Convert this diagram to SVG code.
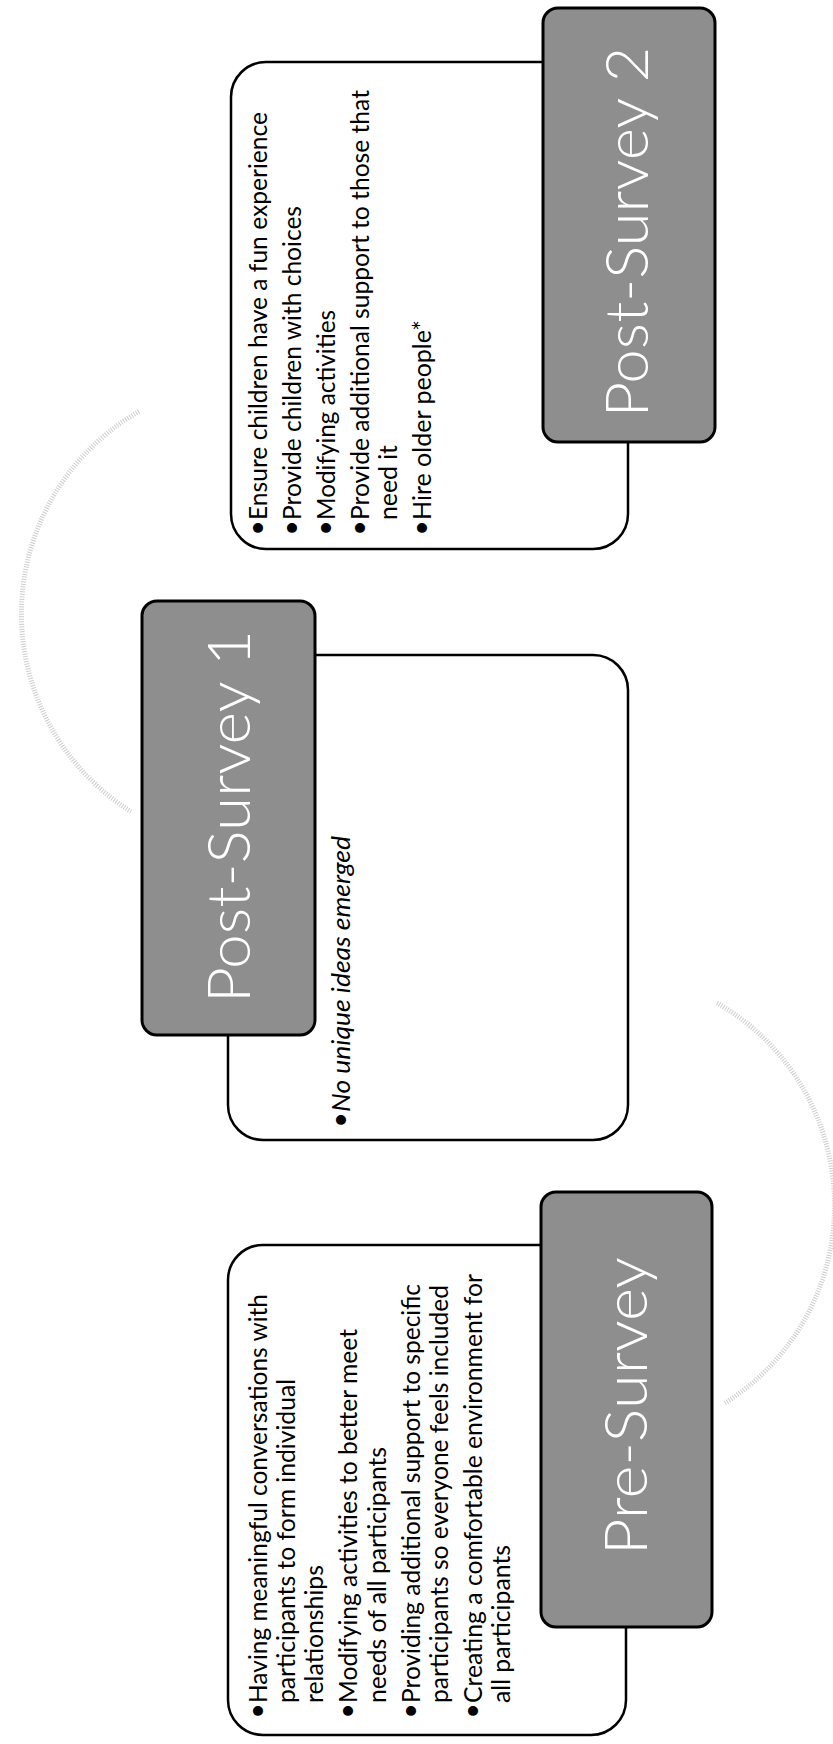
<svg xmlns="http://www.w3.org/2000/svg" width="833" height="1744" viewBox="0 0 833 1744">
<style>
.wbox{fill:#fff;stroke:#000;stroke-width:2.5}
.dbox{fill:#8e8e8e;stroke:#000;stroke-width:3}
.title{font-family:Lato,"Open Sans","Liberation Sans",sans-serif;font-weight:300;font-size:59px;fill:#fff;text-anchor:middle}
.item{font-family:Lato,"Liberation Sans",sans-serif;font-size:24.5px;fill:#000}
.ital{font-style:italic}
.bul{font-family:"Liberation Sans",sans-serif;font-size:36px;fill:#000;text-anchor:middle}
.arc{fill:none;stroke:#cdcdcd;stroke-width:5;stroke-dasharray:1 1.5}
</style>
<rect x="0" y="0" width="833" height="1744" fill="#fff"/>
<g id="connectors">
<path class="arc" d="M 717 1003 A 233 233 0 0 1 725 1403"/>
<path class="arc" d="M 139 411.5 A 233 233 0 0 0 131 811.5"/>
</g>
<g id="post-survey-2">
<rect class="wbox" x="231" y="62" width="397" height="487" rx="35"/>
<rect class="dbox" x="543" y="8" width="172" height="434" rx="15"/>
<g transform="rotate(-90)">
<text class="title" x="-232" y="648" textLength="371" lengthAdjust="spacingAndGlyphs">Post-Survey 2</text>
<text class="bul" x="-528" y="270">•</text>
<text class="item" x="-520" y="267" textLength="408" lengthAdjust="spacingAndGlyphs">Ensure children have a fun experience</text>
<text class="bul" x="-528" y="304">•</text>
<text class="item" x="-520" y="301" textLength="314" lengthAdjust="spacingAndGlyphs">Provide children with choices</text>
<text class="bul" x="-528" y="338">•</text>
<text class="item" x="-520" y="335" textLength="210" lengthAdjust="spacingAndGlyphs">Modifying activities</text>
<text class="bul" x="-528" y="372">•</text>
<text class="item" x="-520" y="369" textLength="430" lengthAdjust="spacingAndGlyphs">Provide additional support to those that</text>
<text class="item" x="-520" y="397" textLength="75" lengthAdjust="spacingAndGlyphs">need it</text>
<text class="bul" x="-528" y="434">•</text>
<text class="item" x="-520" y="431" textLength="200" lengthAdjust="spacingAndGlyphs">Hire older people*</text>
</g>
</g>
<g id="post-survey-1">
<rect class="wbox" x="228" y="655" width="400" height="485" rx="35"/>
<rect class="dbox" x="142" y="601" width="173" height="434" rx="15"/>
<g transform="rotate(-90)">
<text class="title" x="-816.5" y="250" textLength="373" lengthAdjust="spacingAndGlyphs">Post-Survey 1</text>
<text class="bul" x="-1120" y="353">•</text>
<text class="item ital" x="-1112" y="350" textLength="276" lengthAdjust="spacingAndGlyphs">No unique ideas emerged</text>
</g>
</g>
<g id="pre-survey">
<rect class="wbox" x="228" y="1245" width="398" height="490" rx="35"/>
<rect class="dbox" x="541" y="1192" width="171" height="435" rx="15"/>
<g transform="rotate(-90)">
<text class="title" x="-1406" y="647" textLength="298" lengthAdjust="spacingAndGlyphs">Pre-Survey</text>
<text class="bul" x="-1711" y="270">•</text>
<text class="item" x="-1703" y="267" textLength="409" lengthAdjust="spacingAndGlyphs">Having meaningful conversations with</text>
<text class="item" x="-1703" y="295" textLength="324" lengthAdjust="spacingAndGlyphs">participants to form individual</text>
<text class="item" x="-1703" y="323" textLength="138" lengthAdjust="spacingAndGlyphs">relationships</text>
<text class="bul" x="-1711" y="360">•</text>
<text class="item" x="-1703" y="357" textLength="374" lengthAdjust="spacingAndGlyphs">Modifying activities to better meet</text>
<text class="item" x="-1703" y="386" textLength="256" lengthAdjust="spacingAndGlyphs">needs of all participants</text>
<text class="bul" x="-1711" y="423">•</text>
<text class="item" x="-1703" y="420" textLength="419" lengthAdjust="spacingAndGlyphs">Providing additional support to specific</text>
<text class="item" x="-1703" y="448" textLength="418" lengthAdjust="spacingAndGlyphs">participants so everyone feels included</text>
<text class="bul" x="-1711" y="485">•</text>
<text class="item" x="-1703" y="482" textLength="429" lengthAdjust="spacingAndGlyphs">Creating a comfortable environment for</text>
<text class="item" x="-1703" y="510" textLength="158" lengthAdjust="spacingAndGlyphs">all participants</text>
</g>
</g>
</svg>
